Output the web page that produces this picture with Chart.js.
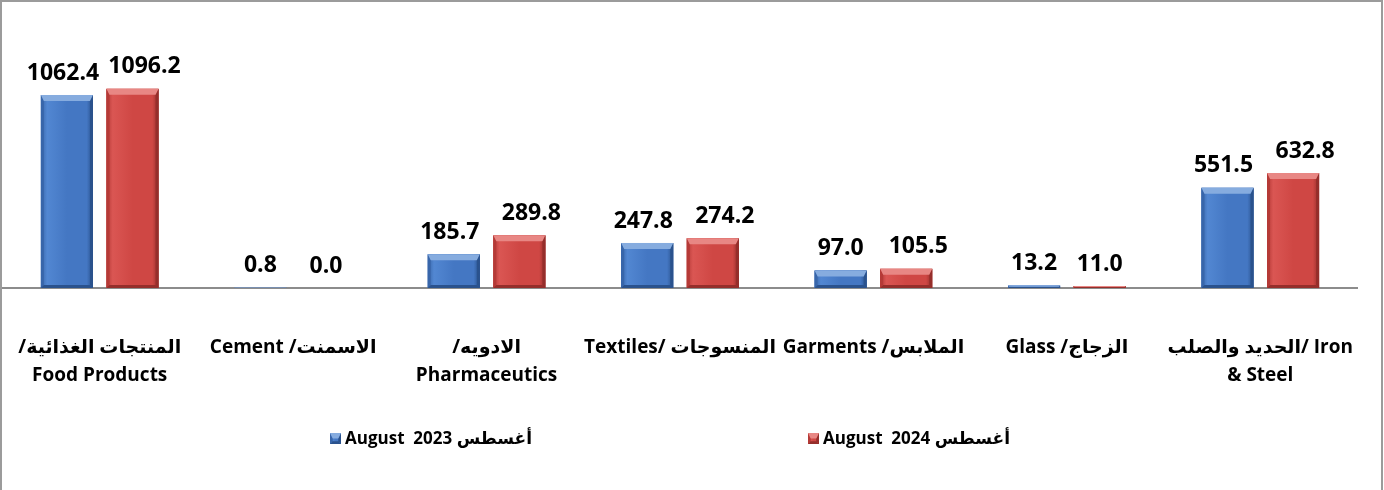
<!DOCTYPE html>
<html>
<head>
<meta charset="utf-8">
<title>Exports by sector</title>
<script src="https://cdn.jsdelivr.net/npm/chart.js@4.4.1/dist/chart.umd.min.js"></script>
<style>
  body { margin: 0; background: #fff; overflow: hidden; }
  #wrap { position: relative; width: 1384px; height: 490px; }
  #frame { position: absolute; left: 0; top: 0; width: 1383px; height: 530px; box-sizing: border-box;
           border: 2px solid #9b9b9b; pointer-events: none; }
</style>
</head>
<body>
<div id="wrap">
  <canvas id="bar-chart" width="1384" height="490"></canvas>
  <div id="frame"></div>
</div>
<script>
// sectors, left to right
const categories = [
  ['/المنتجات الغذائية', 'Food Products'],
  ['Cement /الاسمنت'],
  ['/الادويه', 'Pharmaceutics'],
  ['Textiles/ المنسوجات'],
  ['Garments /الملابس'],
  ['Glass /الزجاج'],
  ['الحديد والصلب/ Iron', '& Steel']
];
const aug2023 = [1062.4, 0.8, 185.7, 247.8, 97.0, 13.2, 551.5];
const aug2024 = [1096.2, 0.0, 289.8, 274.2, 105.5, 11.0, 632.8];
const seriesNames = ['August  2023 أغسطس', 'August  2024 أغسطس'];

const FONT = "'Open Sans', 'DejaVu Sans', sans-serif";
const shades = [
  { top: '#86acdf', body: '#4477c3', light: '#5287d2', side: '#3866aa', dark: '#2a528d' },
  { top: '#e88784', body: '#cf4744', light: '#da5653', side: '#b53a37', dark: '#952e2b' }
];
// wide value labels are nudged apart so neighbours don't collide
const labelShift = [-4, 12];

function poly(ctx, pts, color) {
  ctx.beginPath();
  ctx.moveTo(pts[0][0], pts[0][1]);
  for (let i = 1; i < pts.length; i++) ctx.lineTo(pts[i][0], pts[i][1]);
  ctx.closePath();
  ctx.fillStyle = color;
  ctx.fill();
}

// bevelled box like the office "3D" bar style
function bevel(ctx, x0, x1, y0, y1, c) {
  const w = x1 - x0, h = y1 - y0;
  if (w <= 0 || h <= 0) return;
  const bt = Math.min(6, h / 2), bs = Math.min(3, w / 4, h / 2);
  const g = ctx.createLinearGradient(x0, 0, x1, 0);
  g.addColorStop(0, c.side);
  g.addColorStop(0.12, c.light);
  g.addColorStop(0.5, c.body);
  g.addColorStop(0.88, c.body);
  g.addColorStop(1, c.dark);
  ctx.fillStyle = g;
  ctx.fillRect(x0, y0, w, h);
  poly(ctx, [[x0, y0], [x0 + bs, y0 + bt], [x0 + bs, y1 - bs], [x0, y1]], c.side);
  poly(ctx, [[x1, y0], [x1, y1], [x1 - bs, y1 - bs], [x1 - bs, y0 + bt]], c.dark);
  poly(ctx, [[x0, y1], [x0 + bs, y1 - bs], [x1 - bs, y1 - bs], [x1, y1]], c.dark);
  poly(ctx, [[x0, y0], [x1, y0], [x1 - bs, y0 + bt], [x0 + bs, y0 + bt]], c.top);
}

const barStyle = {
  id: 'barStyle',
  afterDatasetsDraw(chart) {
    const ctx = chart.ctx;
    ctx.save();
    chart.data.datasets.forEach((ds, di) => {
      chart.getDatasetMeta(di).data.forEach((el) => {
        const p = el.getProps(['x', 'y', 'base', 'width'], true);
        bevel(ctx, p.x - p.width / 2, p.x + p.width / 2, Math.min(p.y, p.base), Math.max(p.y, p.base), shades[di]);
      });
    });
    ctx.restore();
  }
};

const valueLabels = {
  id: 'valueLabels',
  afterDraw(chart) {
    const ctx = chart.ctx;
    ctx.save();
    ctx.font = 'bold 23px ' + FONT;
    ctx.fillStyle = '#000';
    ctx.textAlign = 'center';
    ctx.textBaseline = 'middle';
    chart.data.datasets.forEach((ds, di) => {
      chart.getDatasetMeta(di).data.forEach((el, i) => {
        const txt = ds.data[i].toFixed(1);
        const dx = txt.length >= 5 ? labelShift[di] : 0;
        ctx.fillText(txt, el.x + dx, el.y - 22);
      });
    });
    ctx.restore();
  }
};

const bottomLegend = {
  id: 'bottomLegend',
  afterDraw(chart, args, opts) {
    const ctx = chart.ctx;
    ctx.save();
    ctx.font = 'bold 17px ' + FONT;
    ctx.textAlign = 'left';
    ctx.textBaseline = 'middle';
    chart.data.datasets.forEach((ds, di) => {
      const x = opts.starts[di], y = opts.y;
      bevel(ctx, x, x + 11, y - 5, y + 6, shades[di]);
      ctx.fillStyle = '#000';
      ctx.fillText(ds.label, x + 15, y + 1);
    });
    ctx.restore();
  }
};

new Chart(document.getElementById('bar-chart'), {
  type: 'bar',
  data: {
    labels: categories,
    datasets: [
      { label: seriesNames[0], data: aug2023, backgroundColor: shades[0].body },
      { label: seriesNames[1], data: aug2024, backgroundColor: shades[1].body }
    ]
  },
  options: {
    responsive: false,
    animation: false,
    layout: { padding: { top: 70, left: 3, right: 27, bottom: 0 } },
    categoryPercentage: 0.678,
    barPercentage: 0.794,
    plugins: {
      legend: { display: false },
      tooltip: { enabled: false },
      bottomLegend: { starts: [330, 808], y: 438 }
    },
    scales: {
      x: {
        grid: { display: false },
        border: { display: true, color: '#8c8c8c', width: 2 },
        ticks: {
          color: '#000',
          padding: 38,
          autoSkip: false,
          maxRotation: 0,
          font: { family: FONT, size: 19, weight: 'bold', lineHeight: 1.45 }
        },
        afterFit(scale) {
          scale.height = 202;
          scale.paddingLeft = 0;
          scale.paddingRight = 0;
        }
      },
      y: { display: false, min: 0, max: 1200 }
    }
  },
  plugins: [barStyle, valueLabels, bottomLegend]
});
</script>
</body>
</html>
